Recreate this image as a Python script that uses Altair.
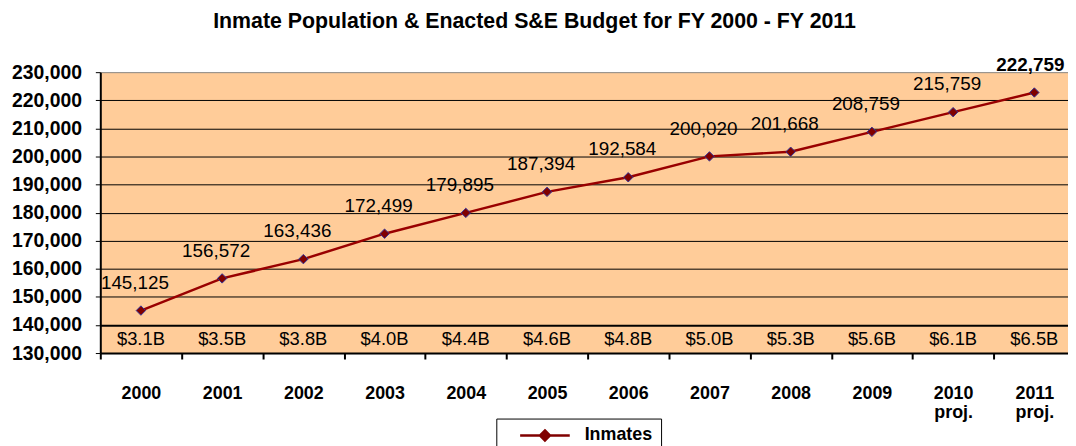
import altair as alt
import pandas as pd

years = ["2000", "2001", "2002", "2003", "2004", "2005", "2006", "2007",
         "2008", "2009", "2010 proj.", "2011 proj."]
inmates = [145125, 156572, 163436, 172499, 179895, 187394, 192584, 200020,
           201668, 208759, 215759, 222759]
budget = ["$3.1B", "$3.5B", "$3.8B", "$4.0B", "$4.4B", "$4.6B", "$4.8B",
          "$5.0B", "$5.3B", "$5.6B", "$6.1B", "$6.5B"]
series = ["Inmates"] * len(years)
y_ticks = [130000, 140000, 150000, 160000, 170000, 180000, 190000, 200000,
           210000, 220000, 230000]

df = pd.DataFrame({"year": years, "inmates": inmates, "budget": budget,
                   "series": series})
df["label"] = df["inmates"].map(lambda v: f"{v:,}")

FONT = "Liberation Sans"
W = 975

xs = alt.Scale(type="band", domain=years, range=[0, 982],
               paddingInner=0, paddingOuter=0)
ys = alt.Scale(domain=[130000, 230000], nice=False, zero=False)

xaxis = alt.Axis(labelExpr="split(datum.label, ' ')", labelAngle=0,
                 labelFont=FONT, labelFontSize=18, labelFontWeight="bold",
                 labelColor="black", labelPadding=26, labelLineHeight=19,
                 tickBand="extent", tickColor="black", tickSize=6,
                 tickWidth=2, domainColor="black", domainWidth=2,
                 grid=False, labelBaseline="top", labelOverlap=False)
yaxis = alt.Axis(values=y_ticks, tickCount=11,
                 format=",d", labelFont=FONT, labelFontSize=19.5,
                 labelFontWeight="bold", labelColor="black",
                 labelPadding=14, tickSize=5, tickColor="black",
                 domainColor="black", domainWidth=2,
                 labelOverlap=False,
                 grid=True,
                 gridColor=alt.condition("datum.value == 230000",
                                         alt.value("#888888"),
                                         alt.value("black")),
                 gridWidth=alt.condition("datum.value == 140000",
                                         alt.value(2),
                                         alt.value(1)),
                 gridOpacity=1)

x = alt.X("year:N", scale=xs, sort=years, title=None, axis=xaxis)
y = alt.Y("inmates:Q", scale=ys, title=None, axis=yaxis)

base = alt.Chart(df)

line = base.mark_line(color="#990000", strokeWidth=2.5).encode(x=x, y=y)

points = base.mark_point(filled=True, shape="diamond", size=90,
                         stroke="#333399", strokeWidth=1, opacity=1).encode(
    x=x, y=y,
    color=alt.Color("series:N", scale=alt.Scale(range=["#800000"]),
                    legend=alt.Legend(
                        title=None, orient="none", legendX=399, legendY=349,
                        strokeColor="black", padding=8, fillColor="white",
                        symbolType="M-5,0H5M0,-1L1,0L0,1L-1,0Z",
                        symbolSize=100, symbolOffset=32,
                        symbolStrokeColor="#800000",
                        symbolStrokeWidth=2.5, symbolFillColor="#800000",
                        labelOffset=31,
                        labelFont=FONT, labelFontSize=18,
                        labelFontWeight="bold", labelColor="black",
                        labelLimit=200, symbolOpacity=1)))

labels = base.mark_text(font=FONT, fontSize=19, dy=-28, dx=-6,
                        color="black").encode(
    x=x, y=y, text="label:N").transform_filter("datum.year != '2011 proj.'")

labels_last = base.mark_text(font=FONT, fontSize=19, dy=-28, dx=-4,
                             fontWeight="bold", color="black").encode(
    x=x, y=y, text="label:N").transform_filter("datum.year == '2011 proj.'")

blabels = base.mark_text(font=FONT, fontSize=18.5, color="black",
                         baseline="middle").encode(
    x=x, y=alt.YDatum(135000, scale=ys, axis=yaxis, title=None),
    text="budget:N")

chart = alt.layer(line, points, labels, labels_last, blabels).properties(
    width=W, height=283,
    padding={"left": 93, "top": 63, "right": 0, "bottom": 92},
    autosize=alt.AutoSizeParams(type="none"),
    title=alt.TitleParams(
        "Inmate Population & Enacted S&E Budget for FY 2000 - FY 2011",
        font=FONT, fontSize=21.5, fontWeight="bold", color="black",
        anchor="middle", frame="group", dx=-50, offset=23),
).configure_view(fill="#FFCC99", stroke=None)

chart.save("out.html", embed_options={"renderer": "svg", "actions": False})
